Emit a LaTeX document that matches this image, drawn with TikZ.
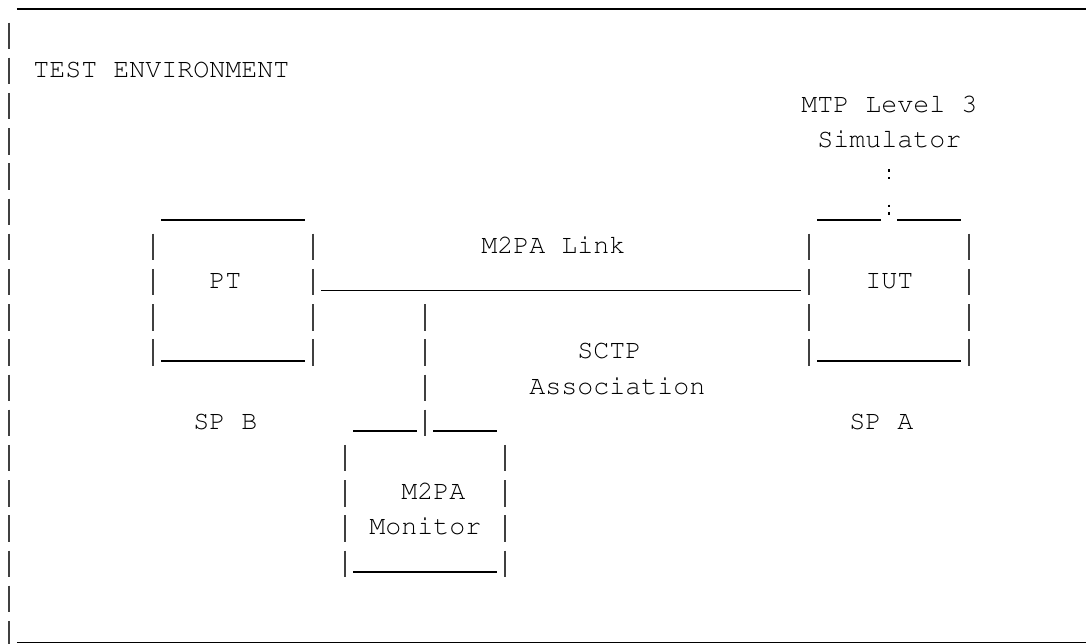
\documentclass[tikz,border=0pt]{standalone}
\usepackage[T1]{fontenc}
\usepackage{courier}
\usepackage{tikz}

\begin{document}
\begin{tikzpicture}
  [x=12pt,y=-26.4pt,
   every node/.style={anchor=base west,inner sep=0pt,font=\ttfamily\fontsize{20}{26.4}\selectfont},
   pipe/.style={line width=1.3pt,black!75,dash pattern=on 19.8pt off 6.6pt},
   rule/.style={line width=1.3pt},
   dots/.style={line width=2.2pt,dash pattern=on 2pt off 3.5pt on 2pt off 18.9pt}]
  \useasboundingbox (-0.0625,-0.0142) rectangle (67.8125,18.281);
  \clip (-0.0625,-0.0142) rectangle (67.8125,18.281);

  % labels
  \node (title) at (2,2.18) {TEST ENVIRONMENT};
  \node (mtp) at (50,3.18) {MTP Level 3};
  \node (sim) at (51,4.18) {Simulator};
  \node (link) at (30,7.18) {M2PA Link};
  \node (pt) at (13,8.18) {PT};
  \node (iut) at (54,8.18) {IUT};
  \node (sctp) at (36,10.18) {SCTP};
  \node (assoc) at (33,11.18) {Association};
  \node (spb) at (12,12.18) {SP B};
  \node (spa) at (53,12.18) {SP A};
  \node (m2pa) at (25,14.18) {M2PA};
  \node (mon) at (23,15.18) {Monitor};

  % frame
  \draw[rule] (1,0.24) -- (67.8125,0.24);
  \draw[rule] (1,18.24) -- (67.8125,18.24);
  \draw[pipe] (0.5,0.625) -- (0.5,18.375);

  % boxes
  \foreach \c/\t/\b in {9/7/10,50/7/10,21/13/16} {
    \draw[pipe] (\c+0.5,\t-0.375) -- (\c+0.5,\b+0.375);
    \draw[pipe] (\c+10.5,\t-0.375) -- (\c+10.5,\b+0.375);
    \draw[rule] (\c+1,\b+0.24) -- (\c+10,\b+0.24);
  }
  \draw[rule] (10,6.24) -- (19,6.24);
  \draw[rule] (51,6.24) -- (55,6.24);
  \draw[rule] (56,6.24) -- (60,6.24);
  \draw[rule] (22,12.24) -- (26,12.24);
  \draw[rule] (27,12.24) -- (31,12.24);

  % connectors
  \coordinate (pt-e) at (20,8.24);
  \coordinate (iut-w) at (50,8.24);
  \coordinate (tap) at (26.5,8.625);
  \coordinate (mon-n) at (26.5,12.375);
  \coordinate (sim-s) at (55.5,4.80);
  \coordinate (iut-n) at (55.5,6.10);
  \draw[rule] (pt-e) -- (iut-w);
  \draw[pipe] (tap) -- (mon-n);
  \draw[dots] (sim-s) -- (iut-n);

\end{tikzpicture}
\end{document}
